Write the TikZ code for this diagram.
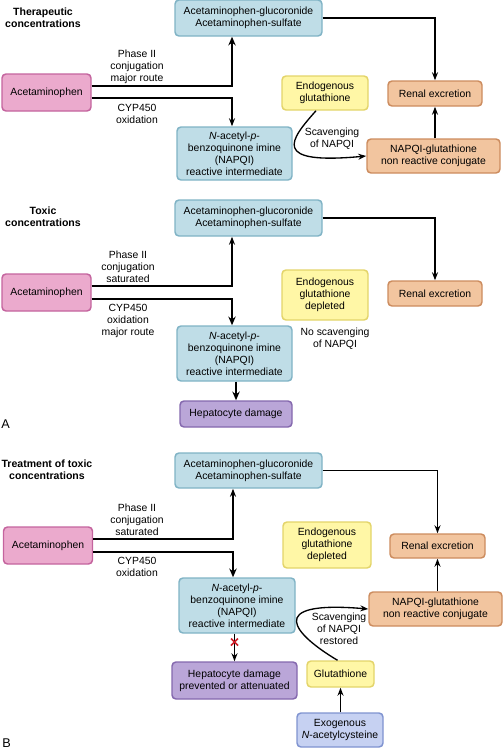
\documentclass[tikz,border=0pt]{standalone}
\usepackage{fontspec}
\setmainfont{Liberation Sans}
\usetikzlibrary{arrows.meta,calc}

\definecolor{apapfill}{HTML}{EBAACD}
\definecolor{apapline}{HTML}{C4649E}
\definecolor{metfill}{HTML}{BFDDE7}
\definecolor{metline}{HTML}{80B3C5}
\definecolor{glufill}{HTML}{FFF7A6}
\definecolor{gluline}{HTML}{E3D46A}
\definecolor{excfill}{HTML}{F2C59F}
\definecolor{excline}{HTML}{CC8C5E}
\definecolor{dmgfill}{HTML}{BAA6D8}
\definecolor{dmgline}{HTML}{8468AE}
\definecolor{nacfill}{HTML}{C6D1F2}
\definecolor{nacline}{HTML}{7F93D0}
\definecolor{crossred}{HTML}{D0202A}

\tikzset{
  box/.style={draw, line width=1.1pt, rounded corners=3pt, align=center, inner sep=1pt},
  sz/.style 2 args={minimum width=#1*0.75pt, minimum height=#2*0.75pt},
  drug/.style={box, fill=apapfill, draw=apapline},
  metab/.style={box, fill=metfill, draw=metline},
  glut/.style={box, fill=glufill, draw=gluline},
  excr/.style={box, fill=excfill, draw=excline},
  damage/.style={box, fill=dmgfill, draw=dmgline},
  nac/.style={box, fill=nacfill, draw=nacline},
  flow/.style={line width=1pt, -{Stealth[length=6pt,width=4.5pt]}},
  major/.style={line width=2pt, -{Stealth[length=6.5pt,width=5.5pt]}},
  lbl/.style={align=center, inner sep=0pt},
  title/.style={align=center, inner sep=0pt, font=\fontsize{7.9}{9}\selectfont\bfseries},
}

\begin{document}
\begin{tikzpicture}[x=0.75pt, y=-0.75pt, font=\fontsize{7.8}{9}\selectfont]
    \useasboundingbox (0,0) rectangle (503,750);

    % A: terapeuticke koncentrace
    \node[title] (t1) at (43,18) {Therapeutic\\concentrations};
    \node[drug, sz={89}{37}] (apap1) at (46.5,92.5) {Acetaminophen};
    \node[metab, sz={147}{36}] (gluc1) at (248.5,18) {Acetaminophen-glucoronide\\Acetaminophen-sulfate};
    \node[metab, sz={115}{53}] (napqi1) at (234.5,153.5) {\textit{N}-acetyl-\textit{p}-\\benzoquinone imine\\(NAPQI)\\reactive intermediate};
    \node[glut, sz={86}{34}] (endo1) at (325,93) {Endogenous\\glutathione};
    \node[excr, sz={94}{25}] (renal1) at (435,93.5) {Renal excretion};
    \node[excr, sz={133}{34}] (conj1) at (433.5,156) {NAPQI-glutathione\\non reactive conjugate};

    \coordinate (up1) at (232,86);
    \coordinate (dn1) at (232,98);
    \draw[major] (apap1.east |- up1) -- (up1) -- (up1 |- gluc1.south);
    \draw[flow] (apap1.east |- dn1) -- (dn1) -- (dn1 |- napqi1.north);
    \node[lbl] (ph1) at (137,67) {Phase II\\conjugation\\major route};
    \node[lbl] (cyp1) at (137,114) {CYP450\\oxidation};
    \draw[flow] (gluc1.east) -| (renal1.north);
    \draw[flow] (conj1.north -| renal1.south) -- (renal1.south);
    \draw[flow] ($(endo1.south)+(-9,0)$) .. controls (290,140) and (270,165) .. (conj1.west);
    \node[lbl] (sc1) at (332,139) {Scavenging\\of NAPQI};

    % A: toxicke koncentrace
    \node[title] (t2) at (43,217) {Toxic\\concentrations};
    \node[drug, sz={89}{37}] (apap2) at (46.5,292.5) {Acetaminophen};
    \node[metab, sz={147}{36}] (gluc2) at (248.5,218) {Acetaminophen-glucoronide\\Acetaminophen-sulfate};
    \node[metab, sz={115}{55}] (napqi2) at (234.5,353.5) {\textit{N}-acetyl-\textit{p}-\\benzoquinone imine\\(NAPQI)\\reactive intermediate};
    \node[damage, sz={112}{26}] (hep2) at (236,414) {Hepatocyte damage};
    \node[glut, sz={86}{50}] (endo2) at (325,295) {Endogenous\\glutathione\\depleted};
    \node[excr, sz={94}{25}] (renal2) at (435,293.5) {Renal excretion};

    \coordinate (up2) at (232,286);
    \coordinate (dn2) at (232,299);
    \draw[flow] (apap2.east |- up2) -- (up2) -- (up2 |- gluc2.south);
    \draw[major] (apap2.east |- dn2) -- (dn2) -- (dn2 |- napqi2.north);
    \node[lbl] (ph2) at (128,267) {Phase II\\conjugation\\saturated};
    \node[lbl] (cyp2) at (128,321) {CYP450\\oxidation\\major route};
    \draw[flow] (gluc2.east) -| (renal2.north);
    \draw[major] (napqi2.south -| hep2.north) -- (hep2.north);
    \node[lbl] (nosc2) at (335,339) {No scavenging\\of NAPQI};
    \node[anchor=west, inner sep=0pt, font=\fontsize{9.5}{11}\selectfont] (lA) at (1,424) {A};

    % B: lecba toxickych koncentraci
    \node[title] (t3) at (47,470) {Treatment of toxic\\concentrations};
    \node[drug, sz={89}{37}] (apap3) at (48,545.5) {Acetaminophen};
    \node[metab, sz={147}{35}] (gluc3) at (248.5,470.5) {Acetaminophen-glucoronide\\Acetaminophen-sulfate};
    \node[metab, sz={116}{55}] (napqi3) at (237,605.5) {\textit{N}-acetyl-\textit{p}-\\benzoquinone imine\\(NAPQI)\\reactive intermediate};
    \node[damage, sz={125}{37}] (hep3) at (234.5,680.5) {Hepatocyte damage\\prevented or attenuated};
    \node[glut, sz={88}{46}] (endo3) at (327,545) {Endogenous\\glutathione\\depleted};
    \node[excr, sz={95}{24}] (renal3) at (437.5,546) {Renal excretion};
    \node[excr, sz={133}{34}] (conj3) at (435.5,609) {NAPQI-glutathione\\non reactive conjugate};
    \node[glut, sz={67}{26}] (glu3) at (340.5,674) {Glutathione};
    \node[nac, sz={86}{34}] (nac3) at (340,730) {Exogenous\\\textit{N}-acetylcysteine};

    \coordinate (up3) at (233,539);
    \coordinate (dn3) at (233,552);
    \draw[flow] (apap3.east |- up3) -- (up3) -- (up3 |- gluc3.south);
    \draw[major] (apap3.east |- dn3) -- (dn3) -- (dn3 |- napqi3.north);
    \node[lbl] (ph3) at (137,520) {Phase II\\conjugation\\saturated};
    \node[lbl] (cyp3) at (137,567) {CYP450\\oxidation};
    \draw[flow] (gluc3.east) -| (renal3.north);
    \draw[flow] (conj3.north -| renal3.south) -- (renal3.south);
    \draw[flow] (napqi3.south -| hep3.north) -- (hep3.north);
    \draw[flow] (nac3.north -| glu3.south) -- (glu3.south);
    \draw[flow] ($(glu3.north)+(-3,0)$) .. controls (295,635) and (262,600) .. (conj3.west);
    \node[lbl] (sc3) at (339,629) {Scavenging\\of NAPQI\\restored};

    % cervene X
    \coordinate (x3) at (234.5,642);
    \draw[crossred, line width=1.3pt] ($(x3)+(-3.5,-3.5)$) -- ($(x3)+(3.5,3.5)$);
    \draw[crossred, line width=1.3pt] ($(x3)+(-3.5,3.5)$) -- ($(x3)+(3.5,-3.5)$);
    \node[anchor=west, inner sep=0pt, font=\fontsize{9.5}{11}\selectfont] (lB) at (2,743) {B};
\end{tikzpicture}
\end{document}
